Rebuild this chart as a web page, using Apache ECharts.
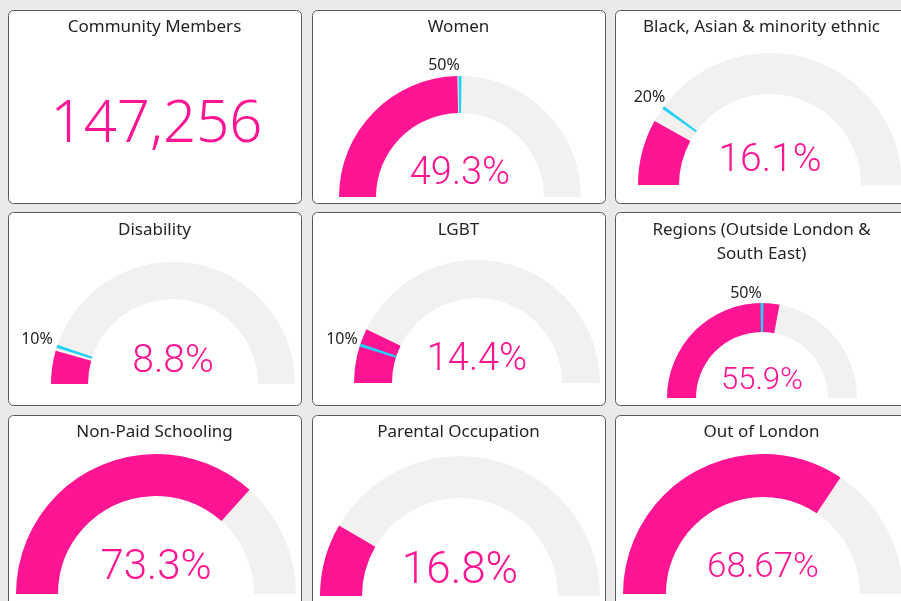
<!DOCTYPE html>
<html>
<head>
<meta charset="utf-8">
<title>Community dashboard</title>
<script src="https://cdn.jsdelivr.net/npm/echarts@6/dist/echarts.min.js"></script>
<style>
  html, body { margin: 0; padding: 0; background: #eaeaea; }
  #chart { width: 901px; height: 601px; }
</style>
</head>
<body>
<div id="chart"></div>
<script>
const membersTitle = 'Community Members'
const membersCount = 147256

const gaugeTitles = [
  'Women',
  'Black, Asian & minority ethnic',
  'Disability',
  'LGBT',
  'Regions (Outside London &\nSouth East)',
  'Non-Paid Schooling',
  'Parental Occupation',
  'Out of London',
]
const gaugeValues = [49.3, 16.1, 8.8, 14.4, 55.9, 73.3, 16.8, 68.67]
const gaugeTargets = [50, 20, 10, 10, 50, null, null, null]

// card grid, 3 x 3; the first card holds the member count
const CARD_X = [8, 312, 615]
const CARD_Y = [10, 212, 415]
const CARD_W = 293
const CARD_H = 193
const TITLE_Y = [27, 230, 432]

// gauge geometry, same order as gaugeTitles
const GAUGE_LAYOUT = [
  { center: [460, 197], r: 121, ring: 37, font: 38, dy: -23, labelDist: -11, labelPad: 32 },
  { center: [770, 185], r: 132, ring: 41, font: 39, dy: -24, labelDist: -17, labelPad: 0 },
  { center: [173, 384], r: 122, ring: 37, font: 39, dy: -22, labelDist: -21, labelPad: 0 },
  { center: [477, 383], r: 123, ring: 38, font: 38, dy: -23, labelDist: -19, labelPad: 0 },
  { center: [762, 398], r: 95, ring: 29, font: 31, dy: -17, labelDist: -10, labelPad: 32 },
  { center: [156, 594], r: 140, ring: 42, font: 42, dy: -26, labelDist: 0, labelPad: 0 },
  { center: [460, 596], r: 140, ring: 42, font: 44, dy: -24, labelDist: 0, labelPad: 0 },
  { center: [763, 594], r: 140, ring: 43, font: 35, dy: -26, labelDist: 0, labelPad: 0 },
]

const PINK = '#ff1493'
const TRACK = '#f2f1f0'
const TARGET = '#1ed3f5'
const TEXT = '#252423'
const BORDER = '#595959'
const TITLE_FONT = '"Noto Sans", "Open Sans", sans-serif'
const VALUE_FONT = 'Roboto, sans-serif'

const chart = echarts.init(document.getElementById('chart'))

const graphics = []
for (let i = 0; i < 9; i++) {
  const x = CARD_X[i % 3]
  const y = CARD_Y[Math.floor(i / 3)]
  graphics.push({
    type: 'rect',
    z: 0,
    shape: { x: x + 0.5, y: y + 0.5, width: CARD_W, height: CARD_H, r: 5 },
    style: { fill: '#ffffff', stroke: BORDER, lineWidth: 1 },
  })
  const title = i === 0 ? membersTitle : gaugeTitles[i - 1]
  const lines = title.split('\n').length
  graphics.push({
    type: 'text',
    z: 1,
    style: {
      text: title,
      x: x + CARD_W / 2,
      y: TITLE_Y[Math.floor(i / 3)] + (lines - 1) * 12,
      align: 'center',
      verticalAlign: 'middle',
      fontSize: 17,
      lineHeight: 24,
      fontFamily: TITLE_FONT,
      fill: TEXT,
    },
  })
}
graphics.push({
  type: 'text',
  z: 1,
  style: {
    text: membersCount.toLocaleString('en-GB'),
    x: CARD_X[0] + CARD_W / 2 + 2,
    y: 125,
    align: 'center',
    verticalAlign: 'middle',
    fontSize: 58,
    fontWeight: 300,
    fontFamily: TITLE_FONT,
    fill: PINK,
  },
})

const hidden = { show: false }
const series = []
gaugeValues.forEach((v, i) => {
  const L = GAUGE_LAYOUT[i]
  series.push({
    type: 'gauge',
    z: 2,
    center: L.center,
    radius: L.r,
    startAngle: 180,
    endAngle: 0,
    min: 0,
    max: 100,
    progress: { show: true, width: L.ring, itemStyle: { color: PINK } },
    axisLine: { lineStyle: { width: L.ring, color: [[1, TRACK]] } },
    pointer: hidden,
    anchor: hidden,
    axisTick: hidden,
    splitLine: hidden,
    axisLabel: hidden,
    title: hidden,
    detail: {
      valueAnimation: false,
      offsetCenter: [0, L.dy],
      fontSize: L.font,
      fontWeight: 300,
      fontFamily: VALUE_FONT,
      color: PINK,
      formatter: val => val + '%',
    },
    data: [{ value: v }],
  })

  const t = gaugeTargets[i]
  if (t == null) return
  // thin cyan tick across the ring at the target value, drawn above the progress arc
  const half = 1.3 / (Math.PI * (L.r - L.ring / 2))
  series.push({
    type: 'gauge',
    z: 6,
    center: L.center,
    radius: L.r,
    startAngle: 180,
    endAngle: 0,
    min: 0,
    max: 100,
    splitNumber: Math.round(100 / t),
    axisLine: {
      lineStyle: {
        width: L.ring,
        color: [
          [t / 100 - half, 'rgba(0,0,0,0)'],
          [t / 100 + half, TARGET],
          [1, 'rgba(0,0,0,0)'],
        ],
      },
    },
    progress: hidden,
    pointer: hidden,
    anchor: hidden,
    axisTick: hidden,
    splitLine: { show: false, length: 0, distance: 0 },
    axisLabel: {
      show: true,
      distance: L.labelDist,
      rotate: 0.001,
      color: TEXT,
      fontSize: 16,
      fontFamily: TITLE_FONT,
      padding: [0, L.labelPad, 0, 0],
      formatter: val => (val === t ? val + '%' : ''),
    },
    title: hidden,
    detail: hidden,
    data: [{ value: t }],
  })
})

chart.setOption({
  animation: false,
  backgroundColor: '#eaeaea',
  graphic: graphics,
  series,
})
</script>
</body>
</html>
